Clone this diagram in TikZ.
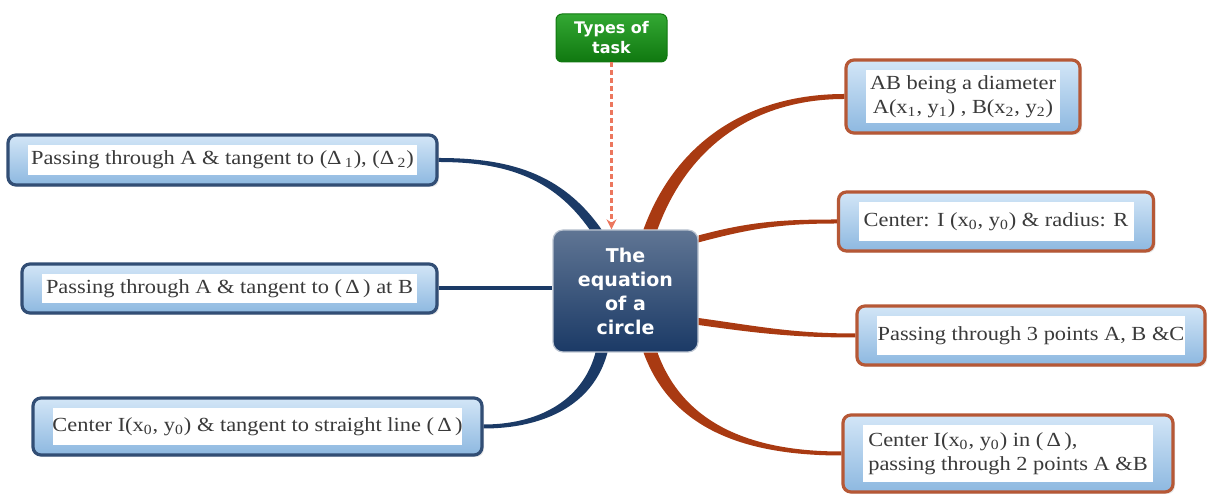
\documentclass[tikz,border=0pt]{standalone}
\usepackage{fontspec}
\setmainfont{Liberation Serif}[FakeStretch=1.12]
\newfontfamily\hubfont{DejaVu Sans}
\usepackage{tikz}
\usetikzlibrary{positioning,arrows.meta,shadows}
\definecolor{navy}{HTML}{1B3A66}
\definecolor{rust}{HTML}{A93A12}
\definecolor{boxtop}{HTML}{D3E6F7}
\definecolor{boxbot}{HTML}{8DB8E0}
\definecolor{inktext}{HTML}{3A3A3A}
\definecolor{salmon}{HTML}{EC775E}
\definecolor{tagtop}{HTML}{33A833}
\definecolor{tagbot}{HTML}{107810}
\tikzset{tbox/.style={rectangle,rounded corners=4pt,line width=1.6pt,
		top color=boxtop,bottom color=boxbot,text=inktext,align=center,
		font=\fontsize{10}{12}\selectfont,
		drop shadow={opacity=0.2,shadow xshift=1pt,shadow yshift=-1pt},
		path picture={\fill[white,sharp corners] ([shift={(20,-10)}]path picture bounding box.north west)
			rectangle ([shift={(-20,10)}]path picture bounding box.south east);}},
	 lbox/.style={tbox,draw=navy!90},
	 rbox/.style={tbox,draw=rust!85},
	 hub/.style={rectangle,rounded corners=5pt,draw=white!70!navy,line width=0.6pt,
		top color=navy!70!white,bottom color=navy,text=white,align=center,
		font=\hubfont\bfseries\fontsize{9.5}{12}\selectfont,
		minimum width=72.5pt,minimum height=61pt},
	 tag/.style={rectangle,rounded corners=3pt,draw=tagbot,line width=0.5pt,
		top color=tagtop,bottom color=tagbot,text=white,align=center,
		font=\hubfont\bfseries\fontsize{8}{10}\selectfont,
		minimum width=55.5pt,minimum height=24pt,inner sep=1pt},
	 lwire/.style={navy,line width=2pt},
	 rwire/.style={rust}
	 }
\begin{document}
\begin{tikzpicture}[x=0.5pt,y=0.5pt] % circle equation map
	\useasboundingbox (0,0) rectangle (1212,497);
	\node[hub] (hub) at (625.5,206) {The\\equation\\of a\\circle};
	\node[tag] (task) at (611.5,459) {Types of\\task};
	\node[lbox,minimum width=214.5pt,minimum height=25pt] (l1) at (222.5,337)
		{Passing through A \& tangent to (Δ\,\textsubscript{1}), (Δ\,\textsubscript{2})};
	\node[lbox,minimum width=207.5pt,minimum height=24.5pt] (l2) at (229.5,208.5)
		{Passing through A \& tangent to (\,Δ\,) at B};
	\node[lbox,minimum width=224.5pt,minimum height=28.5pt] (l3) at (257.5,70.5)
		{Center I(x\textsubscript{0}, y\textsubscript{0}) \& tangent to straight line (\,Δ\,)};
	\node[rbox,minimum width=117pt,minimum height=36.5pt] (r1) at (963,400.5)
		{AB being a diameter\\A(x\textsubscript{1}, y\textsubscript{1}) , B(x\textsubscript{2}, y\textsubscript{2})};
	\node[rbox,minimum width=157.5pt,minimum height=29.5pt] (r2) at (996,275.5)
		{Center: I (x\textsubscript{0}, y\textsubscript{0}) \& radius: R};
	\node[rbox,minimum width=174pt,minimum height=29.5pt] (r3) at (1031,161.5)
		{Passing through 3 points A, B \&C};
	\node[rbox,minimum width=165pt,minimum height=38.5pt,align=left] (r4) at (1008,43.5)
		{Center I(x\textsubscript{0}, y\textsubscript{0}) in (\,Δ\,),\\passing through 2 points A \&B};
	% branches, wider at the hub
	\fill[navy] ([shift={(0,2)}]l1.east) to[out=0,in=125] ([shift={(-24,0)}]hub.north)
		-- ([shift={(-36,0)}]hub.north) to[out=125,in=0] ([shift={(0,-2)}]l1.east) -- cycle;
	\draw[lwire] (l2.east) -- (l2.east -| hub.west);
	\fill[navy] ([shift={(0,2)}]l3.east) to[out=0,in=-105] ([shift={(-30,0)}]hub.south)
		-- ([shift={(-18,0)}]hub.south) to[out=-105,in=0] ([shift={(0,-2)}]l3.east) -- cycle;
	\fill[rwire] ([shift={(18,0)}]hub.north) to[out=70,in=180] ([shift={(0,2.5)}]r1.west)
		-- ([shift={(0,-2.5)}]r1.west) to[out=180,in=70] ([shift={(32,0)}]hub.north) -- cycle;
	\fill[rwire] ([shift={(0,-6)}]hub.north east) to[out=15,in=180] ([shift={(0,2)}]r2.west)
		-- ([shift={(0,-2)}]r2.west) to[out=180,in=15] ([shift={(0,-13)}]hub.north east) -- cycle;
	\fill[rwire] ([shift={(0,-27)}]hub.east) to[out=-8,in=180] ([shift={(0,2)}]r3.west)
		-- ([shift={(0,-2)}]r3.west) to[out=180,in=-8] ([shift={(0,-34)}]hub.east) -- cycle;
	\fill[rwire] ([shift={(32,0)}]hub.south) to[out=-70,in=180] ([shift={(0,2)}]r4.west)
		-- ([shift={(0,-2)}]r4.west) to[out=180,in=-70] ([shift={(18,0)}]hub.south) -- cycle;
	\draw[salmon,line width=1.1pt,dash pattern=on 2.5pt off 1.5pt,-{Stealth[length=5pt,width=5pt]}]
		(task.south) -- (task.south |- hub.north);
\end{tikzpicture}
\end{document}
